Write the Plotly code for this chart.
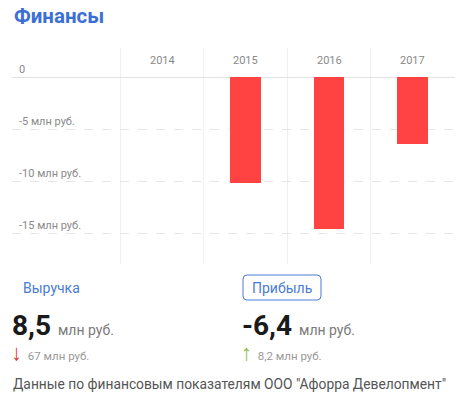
import plotly.graph_objects as go

years = ["2014", "2015", "2016", "2017"]
profit = [None, -10.2, -14.6, -6.4]   # млн руб.
ytick_vals = [0, -5, -10, -15]
ytick_text = ["0", "-5 млн руб.", "-10 млн руб.", "-15 млн руб."]

W, H = 460, 398
ML, MR, MT, MB = 12, 5, 48, 134
PW, PH = W - ML - MR, H - MT - MB

def px(x):
    return (x - ML) / PW

def py(y):
    return (H - MB - y) / PH

xs = list(range(len(years)))

fig = go.Figure()
fig.add_trace(go.Bar(x=xs, y=profit, width=0.37, marker_color="#ff4242",
                     marker_line_width=0, hoverinfo="skip"))

ann = []
for i, yr in enumerate(years):
    ann.append(dict(x=i, y=1, xref="x", yref="paper", text=yr, showarrow=False,
                    yanchor="top", yshift=-4,
                    font=dict(family="Roboto", size=11, color="#8a8a8a")))

BLUE = "#3b6fd6"
ann += [
    dict(x=px(12), y=py(16), xref="paper", yref="paper", xanchor="left", yanchor="middle",
         text="<b>Финансы</b>", showarrow=False,
         font=dict(family="Roboto", size=20.5, color=BLUE)),
    dict(x=px(21), y=py(288), xref="paper", yref="paper", xanchor="left", yanchor="middle",
         text="Выручка", showarrow=False,
         font=dict(family="Roboto", size=14, color="#4a7bd4")),
    dict(x=px(282), y=py(288), xref="paper", yref="paper", xanchor="center", yanchor="middle",
         text="Прибыль", showarrow=False,
         font=dict(family="Roboto", size=14, color="#4a7bd4")),
    dict(x=px(10), y=py(325), xref="paper", yref="paper", xanchor="left", yanchor="middle",
         text="<b>8,5</b> <span style='font-size:14px;color:#7a7a7a'>млн руб.</span>",
         showarrow=False, font=dict(family="Roboto", size=28, color="#1a1a1a")),
    dict(x=px(240), y=py(325), xref="paper", yref="paper", xanchor="left", yanchor="middle",
         text="<b>-6,4</b> <span style='font-size:14px;color:#7a7a7a'>млн руб.</span>",
         showarrow=False, font=dict(family="Roboto", size=28, color="#1a1a1a")),
    dict(x=px(9), y=py(352), xref="paper", yref="paper", xanchor="left", yanchor="middle",
         text="<span style='color:#e53935;font-size:22px'><b>↓</b></span>  67 млн руб.",
         showarrow=False, font=dict(family="Roboto", size=11.5, color="#9a9a9a")),
    dict(x=px(239), y=py(352), xref="paper", yref="paper", xanchor="left", yanchor="middle",
         text="<span style='color:#8bc34a;font-size:22px'><b>↑</b></span>  8,2 млн руб.",
         showarrow=False, font=dict(family="Roboto", size=11.5, color="#9a9a9a")),
    dict(x=px(11), y=py(384), xref="paper", yref="paper", xanchor="left", yanchor="middle",
         text='Данные по финансовым показателям ООО "Афорра Девелопмент"',
         showarrow=False, font=dict(family="Roboto", size=13.8, color="#555555")),
]

# rounded box around "Прибыль"
bx0, bx1, by0, by1 = 243, 321, 275, 300
rr = 4
def P(x, y):
    return f"{px(x)},{py(y)}"
path = (f"M {P(bx0+rr, by0)} L {P(bx1-rr, by0)} Q {P(bx1, by0)} {P(bx1, by0+rr)} "
        f"L {P(bx1, by1-rr)} Q {P(bx1, by1)} {P(bx1-rr, by1)} "
        f"L {P(bx0+rr, by1)} Q {P(bx0, by1)} {P(bx0, by1-rr)} "
        f"L {P(bx0, by0+rr)} Q {P(bx0, by0)} {P(bx0+rr, by0)} Z")

fig.update_layout(
    width=W, height=H, autosize=False,
    margin=dict(l=ML, r=MR, t=MT, b=MB),
    paper_bgcolor="white", plot_bgcolor="white",
    showlegend=False, bargap=0,
    annotations=ann,
    shapes=[dict(type="path", path=path, xref="paper", yref="paper",
                 line=dict(color="#4a7bd4", width=1))],
    xaxis=dict(range=[-1.8, 3.51], tickvals=[-0.5, 0.5, 1.5, 2.5], showticklabels=False,
               showgrid=True, gridcolor="#f0f0f0", gridwidth=1, zeroline=False,
               showline=False, ticks="", fixedrange=True),
    yaxis=dict(range=[-17.98, 2.79], tickvals=ytick_vals, ticktext=ytick_text,
               ticklabelposition="inside top", ticklabelstandoff=4, ticks="", showline=False,
               showgrid=True, gridcolor="#e6e6e6", griddash="dash", gridwidth=1,
               zeroline=True, zerolinecolor="#e2e2e2", zerolinewidth=1,
               tickfont=dict(family="Roboto", size=11, color="#8a8a8a"), fixedrange=True),
)

fig.write_html("out.html", config={"displayModeBar": False},
               post_script="document.body.style.margin='0';document.body.style.overflow='hidden';")
